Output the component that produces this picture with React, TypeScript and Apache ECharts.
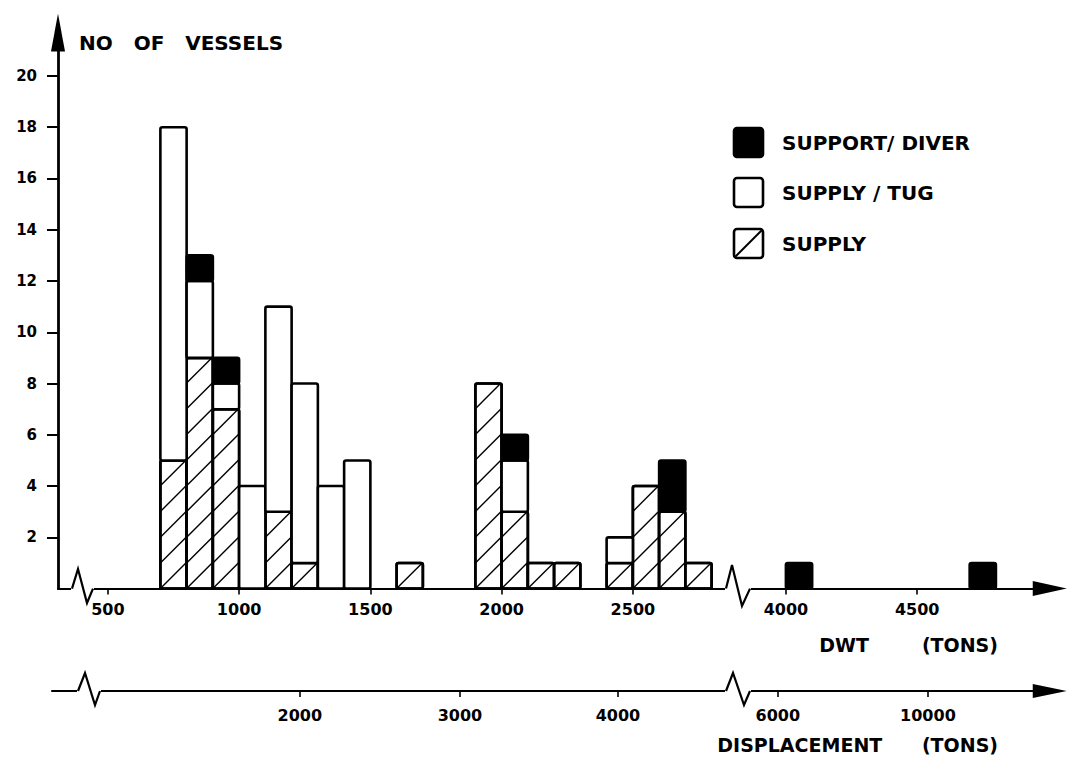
import React, { useEffect, useRef } from "react";
import * as echarts from "echarts";

// ---------- data ----------
const binStartDwt = [700, 800, 900, 1000, 1100, 1200, 1300, 1400, 1600, 1900, 2000, 2100, 2200, 2400, 2500, 2600, 2700, 4000, 4700];
const binWidthDwt = 100;
const supply = [5, 9, 7, 0, 3, 1, 0, 0, 1, 8, 3, 1, 1, 1, 4, 3, 1, 0, 0];
const supplyTug = [13, 3, 1, 4, 8, 7, 4, 5, 0, 0, 2, 0, 0, 1, 0, 0, 0, 0, 0];
const supportDiver = [0, 1, 1, 0, 0, 0, 0, 0, 0, 0, 1, 0, 0, 0, 0, 2, 0, 1, 1];
const seriesNames = ["SUPPORT/ DIVER", "SUPPLY / TUG", "SUPPLY"];
const yTicks = [2, 4, 6, 8, 10, 12, 14, 16, 18, 20];
const dwtTicks = [500, 1000, 1500, 2000, 2500, 4000, 4500];
const dispTickLabels = [2000, 3000, 4000, 6000, 10000];
const dispTickDwt = [1231, 1841, 2443, 3969, 4541];
// hidden stretch of the DWT axis (axis break)
const breakStartDwt = 2900;
const breakEndDwt = 3817;

const toPlot = (v: number) => (v <= breakStartDwt ? v : v - (breakEndDwt - breakStartDwt));
const fromPlot = (p: number) => (p <= breakStartDwt ? p : p + (breakEndDwt - breakStartDwt));

const FONT = "'DejaVu Sans', 'Liberation Sans', sans-serif";
const HATCH_STEP = 25.7;

function buildSegments(vals: number[], base: number[]) {
  const out: number[][] = [];
  vals.forEach((v, i) => {
    if (v > 0) {
      out.push([toPlot(binStartDwt[i]), toPlot(binStartDwt[i] + binWidthDwt), base[i], base[i] + v]);
    }
  });
  return out;
}

function makeRenderItem(kind: "black" | "white" | "hatch") {
  return (params: any, api: any) => {
    const p0 = api.coord([api.value(0), api.value(2)]);
    const p1 = api.coord([api.value(1), api.value(3)]);
    const x0 = p0[0];
    const yb = p0[1];
    const x1 = p1[0];
    const yt = p1[1];
    const children: any[] = [];
    children.push({
      type: "rect",
      shape: { x: x0, y: yt, width: x1 - x0, height: yb - yt, r: 2 },
      style: { fill: kind === "black" ? "#000" : "#fff", stroke: "#000", lineWidth: 2.6 },
    });
    if (kind === "hatch") {
      const kStart = x0 + yb;
      for (let n = -3; n < 200; n++) {
        const k = kStart - n * HATCH_STEP;
        if (k <= x0 + yt) break;
        if (k >= x1 + yb) continue;
        const xa = Math.max(x0, k - yb);
        const xb = Math.min(x1, k - yt);
        if (xb - xa > 0.5) {
          children.push({
            type: "line",
            shape: { x1: xa, y1: k - xa, x2: xb, y2: k - xb },
            style: { stroke: "#000", lineWidth: 1.4 },
          });
        }
      }
      children.push({
        type: "rect",
        shape: { x: x0, y: yt, width: x1 - x0, height: yb - yt, r: 2 },
        style: { fill: "none", stroke: "#000", lineWidth: 2.6 },
      });
    }
    return { type: "group", children };
  };
}

export default function App() {
  const ref = useRef<HTMLDivElement>(null);

  useEffect(() => {
    if (!ref.current) return;
    const chart = echarts.init(ref.current, null, { renderer: "svg" });

    const baseTug = supply.slice();
    const baseDiver = supply.map((v, i) => v + supplyTug[i]);
    const dwtPlotTicks = dwtTicks.map(toPlot);
    const dispPlotTicks = dispTickDwt.map(toPlot);

    const textStyle = { fontFamily: FONT, fontWeight: "bold" as const, fill: "#000" };

    const zig = (pts: number[][]) => [
      {
        type: "line",
        z: 100,
        shape: { x1: pts[0][0] - 1, y1: pts[0][1], x2: pts[pts.length - 1][0] + 1, y2: pts[0][1] },
        style: { stroke: "#fff", lineWidth: 5 },
      },
      {
        type: "polyline",
        z: 101,
        shape: { points: pts },
        style: { stroke: "#000", lineWidth: 2.2, fill: "none", lineJoin: "miter" },
      },
    ];

    const legendItems = [
      { y: 128, kind: "black" },
      { y: 178, kind: "white" },
      { y: 229, kind: "hatch" },
    ];
    const legendGraphics: any[] = [];
    legendItems.forEach((it, i) => {
      legendGraphics.push({
        type: "rect",
        shape: { x: 734, y: it.y, width: 29, height: 29, r: 3 },
        style: { fill: it.kind === "black" ? "#000" : "#fff", stroke: "#000", lineWidth: 2.6 },
      });
      if (it.kind === "hatch") {
        legendGraphics.push({
          type: "line",
          shape: { x1: 735.5, y1: it.y + 27.5, x2: 761.5, y2: it.y + 1.5 },
          style: { stroke: "#000", lineWidth: 2 },
        });
      }
      legendGraphics.push({
        type: "text",
        x: 782,
        y: it.y + 15,
        style: { ...textStyle, text: seriesNames[i], fontSize: 20, textVerticalAlign: "middle", verticalAlign: "middle" },
      });
    });

    const option: any = {
      animation: false,
      backgroundColor: "#fff",
      grid: [
        { left: 58, right: 28.25, top: 32.4, bottom: 169.4 },
        { left: 52, right: 28.25, top: 671, bottom: 67 },
      ],
      xAxis: [
        {
          gridIndex: 0,
          type: "value",
          min: 310,
          max: 4050,
          splitLine: { show: false },
          axisLine: {
            show: true,
            lineStyle: { color: "#000", width: 2.2 },
            symbol: ["none", "triangle"],
            symbolSize: [15, 34],
            symbolOffset: [0, 10],
          },
          axisTick: { show: true, customValues: dwtPlotTicks, length: 6, lineStyle: { color: "#000", width: 1.6 } },
          axisLabel: {
            show: true,
            customValues: dwtPlotTicks,
            margin: 13,
            color: "#000",
            fontFamily: FONT,
            fontWeight: "bold",
            fontSize: 16,
            formatter: (v: number) => String(Math.round(fromPlot(v))),
          },
        },
        {
          gridIndex: 1,
          type: "value",
          min: 287,
          max: 4050,
          splitLine: { show: false },
          axisLine: {
            show: true,
            onZero: false,
            lineStyle: { color: "#000", width: 2.2 },
            symbol: ["none", "triangle"],
            symbolSize: [14, 34],
            symbolOffset: [0, 10],
          },
          axisTick: { show: true, customValues: dispPlotTicks, length: 6, lineStyle: { color: "#000", width: 1.6 } },
          axisLabel: {
            show: true,
            customValues: dispPlotTicks,
            margin: 16,
            color: "#000",
            fontFamily: FONT,
            fontWeight: "bold",
            fontSize: 16,
            formatter: (v: number) => {
              const i = dispPlotTicks.findIndex((p) => Math.abs(p - v) < 1);
              return i >= 0 ? String(dispTickLabels[i]) : "";
            },
          },
        },
      ],
      yAxis: [
        {
          gridIndex: 0,
          type: "value",
          min: 0,
          max: 21.7,
          splitLine: { show: false },
          axisLine: {
            show: true,
            lineStyle: { color: "#000", width: 2.8 },
            symbol: ["none", "triangle"],
            symbolSize: [14, 38],
          },
          axisTick: { show: true, customValues: yTicks, length: 11, lineStyle: { color: "#000", width: 2 } },
          axisLabel: {
            show: true,
            customValues: yTicks,
            margin: 21,
            color: "#000",
            fontFamily: FONT,
            fontWeight: "bold",
            fontSize: 15,
          },
        },
        { gridIndex: 1, type: "value", min: 0, max: 1, show: false },
      ],
      series: [
        {
          name: seriesNames[2],
          type: "custom",
          xAxisIndex: 0,
          yAxisIndex: 0,
          clip: false,
          renderItem: makeRenderItem("hatch"),
          data: buildSegments(supply, supply.map(() => 0)),
        },
        {
          name: seriesNames[1],
          type: "custom",
          xAxisIndex: 0,
          yAxisIndex: 0,
          clip: false,
          renderItem: makeRenderItem("white"),
          data: buildSegments(supplyTug, baseTug),
        },
        {
          name: seriesNames[0],
          type: "custom",
          xAxisIndex: 0,
          yAxisIndex: 0,
          clip: false,
          renderItem: makeRenderItem("black"),
          data: buildSegments(supportDiver, baseDiver),
        },
      ],
      graphic: [
        {
          type: "text",
          x: 79,
          y: 43,
          style: { ...textStyle, text: "NO   OF   VESSELS", fontSize: 20, verticalAlign: "middle", textVerticalAlign: "middle" },
        },
        {
          type: "text",
          x: 998,
          y: 645,
          style: { ...textStyle, text: "DWT        (TONS)", fontSize: 19, align: "right", textAlign: "right", verticalAlign: "middle", textVerticalAlign: "middle" },
        },
        {
          type: "text",
          x: 998,
          y: 745,
          style: { ...textStyle, text: "DISPLACEMENT      (TONS)", fontSize: 19, align: "right", textAlign: "right", verticalAlign: "middle", textVerticalAlign: "middle" },
        },
        ...legendGraphics,
        ...zig([[72, 588.6], [78, 569], [87, 603], [93, 588.6]]),
        ...zig([[726, 588.6], [732, 565], [742, 606], [750, 588.6]]),
        ...zig([[78, 691], [85, 673], [95, 705], [100, 691]]),
        ...zig([[726, 691], [733, 673], [744, 705], [750, 691]]),
      ],
    };

    chart.setOption(option);
    return () => chart.dispose();
  }, []);

  return (
    <div
      ref={ref}
      style={{ position: "absolute", left: 0, top: 0, width: 1068, height: 758, background: "#fff" }}
    />
  );
}
